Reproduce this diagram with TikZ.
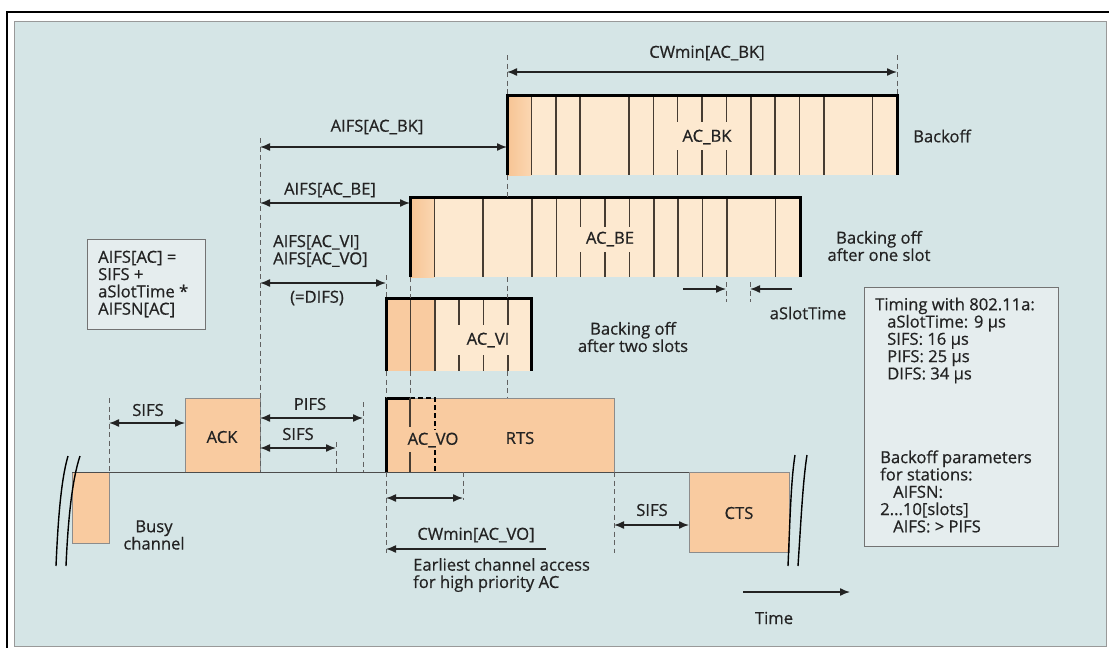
\documentclass[tikz,border=0pt]{standalone}
\usepackage{fontspec}
\setmainfont{Open Sans}
\newfontfamily\medfont{Open Sans}[FakeBold=0.6]
\usetikzlibrary{arrows.meta}
\definecolor{panel}{RGB}{213,229,230}
\definecolor{boxfill}{RGB}{249,203,160}
\definecolor{slotlight}{RGB}{253,233,208}
\definecolor{slotdarkL}{RGB}{247,196,148}
\definecolor{slotdarkR}{RGB}{251,215,178}
\definecolor{infofill}{RGB}{229,237,238}
\definecolor{ink}{RGB}{35,35,35}
\definecolor{slotline}{RGB}{70,60,50}
\begin{document}
\begin{tikzpicture}[x=1pt,y=-1pt,
  >={Latex[length=10pt,width=8pt]},
  lbl/.style={inner sep=0pt, text=ink, font=\medfont\fontsize{16.6}{17.3}\selectfont},
  dim/.style={<->, line width=1.4pt, draw=ink},
  fwd/.style={->, line width=1.4pt, draw=ink},
  guide/.style={draw=black!62, line width=0.9pt, dash pattern=on 5pt off 3.5pt},
  edgeline/.style={line width=3pt, draw=black, line join=miter},
  slotln/.style={line width=1.5pt, draw=slotline},
  pkt/.style={fill=boxfill, draw=black!45, line width=0.6pt},
  infobox/.style={fill=infofill, draw=black!55, line width=0.8pt, inner sep=0pt},
  brk/.style={line width=1.4pt, draw=black}
]
\useasboundingbox (0,0) rectangle (1109,648);
\fill[white] (0,0) rectangle (1109,648);
\draw[line width=1.6pt] (7,12) rectangle (1115,655);
\draw[fill=panel, draw=black!40, line width=1pt] (14,21) rectangle (1106,646);

\def\w{24.375}
% ---------------- AC_BK
\fill[slotlight] (507,95) rectangle (897,175);
\shade[left color=slotdarkL, right color=slotdarkR] (507,95) rectangle (531.4,175);
\foreach \k in {1,2,3,5,6,10,11,12,13,15}{
  \draw[slotln] ({507+\k*\w},95) -- ({507+\k*\w},175);}
\foreach \k in {7,8,9}{
  \draw[slotln] ({507+\k*\w},95) -- ({507+\k*\w},122);
  \draw[slotln] ({507+\k*\w},150) -- ({507+\k*\w},175);}
\coordinate (bkBL) at (507,175); \coordinate (bkTL) at (507,95);
\coordinate (bkTR) at (897,95); \coordinate (bkBR) at (897,175);
\draw[edgeline] (bkBL) -- (bkTL) -- (bkTR) -- (bkBR);
\node[lbl] (acbk) at (707,137) {AC\_BK};

% ---------------- AC_BE
\fill[slotlight] (410,197) rectangle (800,277);
\shade[left color=slotdarkL, right color=slotdarkR] (410,197) rectangle (434.4,277);
\foreach \k in {1,3,5,6,10,11,12,13,15}{
  \draw[slotln] ({410+\k*\w},197) -- ({410+\k*\w},277);}
\foreach \k in {7,8,9}{
  \draw[slotln] ({410+\k*\w},197) -- ({410+\k*\w},227);
  \draw[slotln] ({410+\k*\w},252) -- ({410+\k*\w},277);}
\coordinate (beBL) at (410,277); \coordinate (beTL) at (410,197);
\coordinate (beTR) at (800,197); \coordinate (beBR) at (800,277);
\draw[edgeline] (beBL) -- (beTL) -- (beTR) -- (beBR);
\node[lbl] (acbe) at (610,239) {AC\_BE};

% ---------------- AC_VI
\fill[slotlight] (386,298) rectangle (531.5,371);
\fill[boxfill] (386,298) rectangle (434.75,371);
\foreach \k in {1,2}{
  \draw[slotln] ({386+\k*\w},298) -- ({386+\k*\w},371);}
\foreach \k in {3,4,5}{
  \draw[slotln] ({386+\k*\w},298) -- ({386+\k*\w},325);
  \draw[slotln] ({386+\k*\w},355) -- ({386+\k*\w},371);}
\coordinate (viBL) at (386,371); \coordinate (viTL) at (386,298);
\coordinate (viTR) at (531.5,298); \coordinate (viBR) at (531.5,371);
\draw[edgeline] (viBL) -- (viTL) -- (viTR) -- (viBR);
\node[lbl] (acvi) at (488,340) {AC\_VI};

% ---------------- packets on the channel
\coordinate (lineL) at (72,472); \coordinate (lineR) at (689,472);
\draw[pkt] (72,472) rectangle (109,543);
\draw[pkt] (185,398) rectangle (260,472);
\draw[pkt] (386,398) rectangle (614,472);
\draw[pkt] (689,472) rectangle (789,552);
\draw[line width=0.9pt, draw=black!70] (lineL) -- (lineR);
\node[lbl] (ack) at (222,437) {ACK};
\node[lbl] (rts) at (520,438) {RTS};
\node[lbl] (cts) at (739,513) {CTS};
\node[lbl] (acvo) at (433,440) {AC\_VO};
% RTS / AC_VO edges
\coordinate (voBL) at (386,472); \coordinate (voTL) at (386,398); \coordinate (voTM) at (410,398);
\draw[edgeline] (voBL) -- (voTL) -- (voTM);
\draw[line width=2.4pt, dash pattern=on 5pt off 3pt] (410,398) -- (435,398) -- (435,430);
\draw[line width=2.4pt, dash pattern=on 5pt off 3pt] (435,450) -- (435,472);
\draw[slotln] (410,398) -- (410,427);
\draw[slotln] (410,452) -- (410,472);

% break marks
\draw[brk] (56,566) .. controls (58,520) and (61,480) .. (68,456);
\draw[brk] (66,566) .. controls (68,520) and (72,480) .. (80,456);
\draw[brk] (788,566) .. controls (790,520) and (791,480) .. (795,455);
\draw[brk] (798,566) .. controls (801,520) and (803,480) .. (807,455);

% ---------------- dashed guides
\draw[guide] (260,138) -- (260,472);
\draw[guide] (109,398) -- (109,472);
\draw[guide] (363,402) -- (363,472);
\draw[guide] (336,442) -- (336,472);
\draw[guide] (507,55) -- (507,95);
\draw[guide] (507,175) -- (507,197);
\draw[guide] (507,277) -- (507,298);
\draw[guide] (507,371) -- (507,398);
\draw[guide] (897,55) -- (897,95);
\draw[guide] (410,277) -- (410,298);
\draw[guide] (410,371) -- (410,398);
\draw[guide] (386,275) -- (386,298);
\draw[guide] (386,371) -- (386,398);
\draw[guide] (386,472) -- (386,553);
\draw[guide] (463,472) -- (463,500);
\draw[guide] (614,472) -- (614,553);
\draw[guide] (726,282) -- (726,302);
\draw[guide] (750,282) -- (750,302);

% ---------------- dimension arrows
\coordinate (cwbkL) at (507,72); \coordinate (cwbkR) at (897,72);
\draw[dim] (cwbkL) -- (cwbkR);
\node[lbl] (cwbk) at (707,53) {CWmin[AC\_BK]};

\coordinate (afbkL) at (260,147); \coordinate (afbkR) at (507,147);
\draw[dim] (afbkL) -- (afbkR);
\node[lbl] (afbk) at (377,127) {AIFS[AC\_BK]};

\coordinate (afbeL) at (260,203); \coordinate (afbeR) at (410,203);
\draw[dim] (afbeL) -- (afbeR);
\node[lbl] (afbe) at (330,190) {AIFS[AC\_BE]};

\coordinate (afviL) at (260,283); \coordinate (afviR) at (386,283);
\draw[dim] (afviL) -- (afviR);
\node[lbl, align=left, anchor=west] (afvi) at (273,251) {AIFS[AC\_VI]\\AIFS[AC\_VO]};
\node[lbl] (difs) at (317,298) {(=DIFS)};

\coordinate (sifs1L) at (109,423); \coordinate (sifs1R) at (185,423);
\draw[dim] (sifs1L) -- (sifs1R);
\node[lbl] (sifs1) at (148,410) {SIFS};

\coordinate (pifsL) at (260,418); \coordinate (pifsR) at (363,418);
\draw[dim] (pifsL) -- (pifsR);
\node[lbl] (pifs) at (310,404) {PIFS};

\coordinate (sifs2L) at (260,448); \coordinate (sifs2R) at (336,448);
\draw[dim] (sifs2L) -- (sifs2R);
\node[lbl] (sifs2) at (298,434) {SIFS};

\coordinate (cwvoL) at (386,498); \coordinate (cwvoR) at (463,498);
\draw[dim] (cwvoL) -- (cwvoR);
\node[lbl] (cwvo) at (476,535) {CWmin[AC\_VO]};

\coordinate (earlyR) at (546,549); \coordinate (earlyL) at (386,549);
\draw[fwd] (earlyR) -- (earlyL);
\node[lbl, align=left, anchor=west] (early) at (413,575) {Earliest channel access\\for high priority AC};

\coordinate (sifs3L) at (614,525); \coordinate (sifs3R) at (689,525);
\draw[dim] (sifs3L) -- (sifs3R);
\node[lbl] (sifs3) at (652,510) {SIFS};

\coordinate (slotA) at (683,289); \coordinate (slotB) at (726,289);
\coordinate (slotC) at (792,289); \coordinate (slotD) at (750,289);
\draw[fwd] (slotA) -- (slotB);
\draw[fwd] (slotC) -- (slotD);
\node[lbl] (aslot) at (808,313) {aSlotTime};

\coordinate (timeL) at (743,592); \coordinate (timeR) at (850,592);
\draw[fwd] (timeL) -- (timeR);
\node[lbl] (time) at (774,618) {Time};

% ---------------- text labels
\node[lbl] (backoff) at (942,136) {Backoff};
\node[lbl, align=center] (bo1) at (879,246) {Backing off\\after one slot};
\node[lbl, align=center] (bo2) at (633,337) {Backing off\\after two slots};
\node[lbl, align=center] (busy) at (154,535) {Busy\\channel};

% formula box
\node[infobox, minimum width=118pt, minimum height=90pt] (fbox) at (146,284) {};
\node[lbl, align=left, anchor=west] (ftext) at (98,284) {AIFS[AC] =\\SIFS +\\aSlotTime *\\AIFSN[AC]};

% timing box
\node[infobox, minimum width=194pt, minimum height=259pt] (tbox) at (961,416.5) {};
\node[lbl, align=left, anchor=west] (timing) at (875,340.5) {Timing with 802.11a:\\\hspace*{12pt}aSlotTime: 9 µs\\\hspace*{12pt}SIFS: 16 µs\\\hspace*{12pt}PIFS: 25 µs\\\hspace*{12pt}DIFS: 34 µs};
\node[lbl, align=left, anchor=west] (params) at (880,491.5) {Backoff parameters\\for stations:\\\hspace*{13pt}AIFSN:\\2...10[slots]\\\hspace*{13pt}AIFS: > PIFS};
\end{tikzpicture}
\end{document}
